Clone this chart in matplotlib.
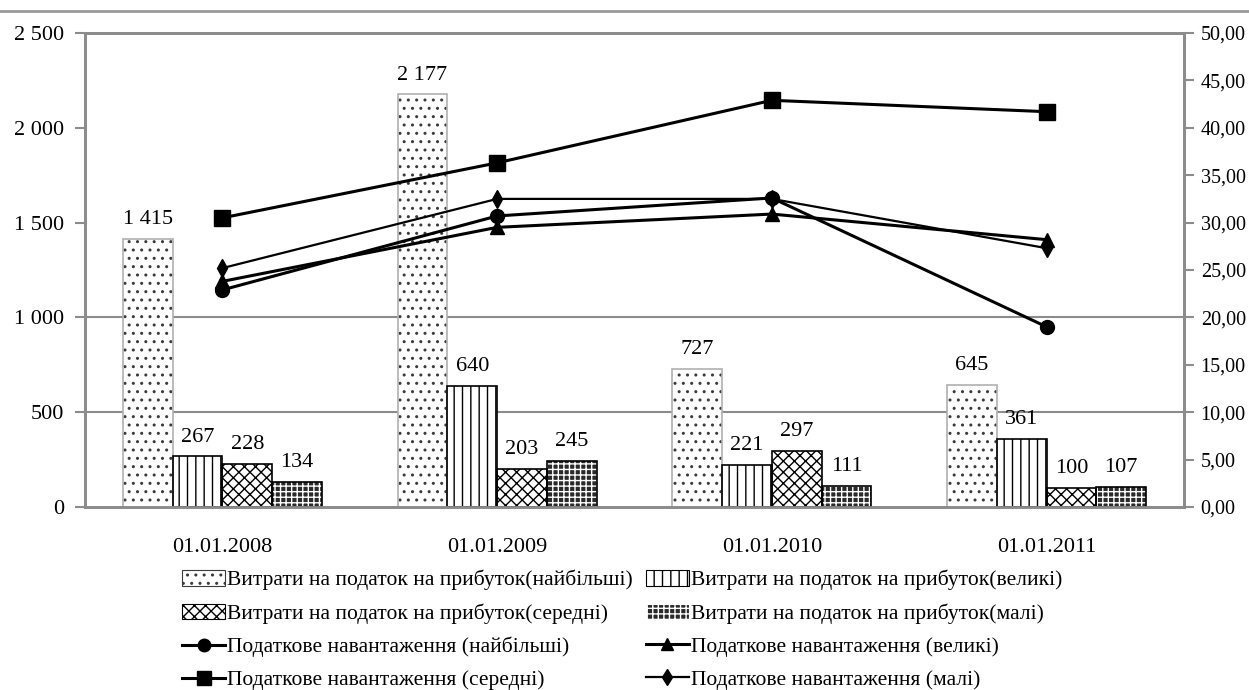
import matplotlib
matplotlib.use("Agg")
import matplotlib.pyplot as plt
import numpy as np
from matplotlib.ticker import FuncFormatter, MultipleLocator
from matplotlib.lines import Line2D
from matplotlib.patches import Patch

plt.rcParams['font.family'] = ['Liberation Serif', 'DejaVu Serif']
plt.rcParams['hatch.linewidth'] = 1.0

dates = ["01.01.2008", "01.01.2009", "01.01.2010", "01.01.2011"]

# Profit tax expenses by enterprise size
exp_largest = [1415, 2177, 727, 645]
exp_large = [267, 640, 221, 361]
exp_medium = [228, 203, 297, 100]
exp_small = [134, 245, 111, 107]

# Tax burden by enterprise size (right axis)
burden_largest = [22.9, 30.7, 32.6, 19.0]
burden_large = [23.8, 29.5, 30.9, 28.2]
burden_medium = [30.5, 36.3, 42.9, 41.7]
burden_small = [25.2, 32.5, 32.5, 27.3]

bar_labels = [
    "Витрати на податок на прибуток(найбільші)",
    "Витрати на податок на прибуток(великі)",
    "Витрати на податок на прибуток(середні)",
    "Витрати на податок на прибуток(малі)",
]
line_labels = [
    "Податкове навантаження (найбільші)",
    "Податкове навантаження (великі)",
    "Податкове навантаження (середні)",
    "Податкове навантаження (малі)",
]

fig = plt.figure(figsize=(12.49, 6.90), dpi=100)
ax = fig.add_axes([85 / 1249, 1 - 507 / 690, (1184 - 85) / 1249, (507 - 33) / 690])
ax2 = ax.twinx()

grey = "#8c8c8c"
x = np.arange(len(dates))
w = 0.181
offsets = [-1.5 * w, -0.5 * w, 0.5 * w, 1.5 * w]

bar_styles = [
    dict(hatch="..", face="white", hcolor="#3a3a3a", edge="#b0b0b0"),
    dict(hatch="||", face="white", hcolor="black", edge="black"),
    dict(hatch="xxx", face="white", hcolor="black", edge="black"),
    dict(hatch="+++", face="#2a2a2a", hcolor="white", edge="black"),
]
series = [exp_largest, exp_large, exp_medium, exp_small]

bar_handles = []
for vals, off, st, lab in zip(series, offsets, bar_styles, bar_labels):
    # hatch layer
    ax.bar(x + off, vals, w, facecolor=st["face"], edgecolor=st["hcolor"],
           hatch=st["hatch"], linewidth=0, zorder=2)
    # outline layer
    ax.bar(x + off, vals, w, facecolor="none", edgecolor=st["edge"],
           linewidth=1.2, zorder=3)
    for xi, v in zip(x + off, vals):
        txt = f"{v:,}".replace(",", " ")
        ax.annotate(txt, (xi, v), xytext=(0, 7), textcoords="offset points",
                    ha="center", va="bottom", fontsize=16, color="black")
    bar_handles.append(Patch(facecolor=st["face"], edgecolor=st["hcolor"],
                             hatch=st["hatch"], linewidth=0.8, label=lab))

line_specs = [
    (burden_largest, "o", 10, 2.2),
    (burden_large, "^", 10, 2.2),
    (burden_medium, "s", 11, 2.2),
    (burden_small, "d", 9, 1.6),
]
line_handles = []
for vals, mk, ms, lw in line_specs:
    ax2.plot(x, vals, color="black", marker=mk, markersize=ms, linewidth=lw,
             markerfacecolor="black", markeredgecolor="black", zorder=4)
for (vals, mk, ms, lw), lab in zip(line_specs, line_labels):
    line_handles.append(Line2D([], [], color="black", marker=mk, markersize=ms * 0.9,
                               linewidth=lw, label=lab))

ax.set_xlim(-0.5, 3.5)
ax.set_ylim(0, 2500)
ax2.set_ylim(0, 50)
ax.yaxis.set_major_locator(MultipleLocator(500))
ax2.yaxis.set_major_locator(MultipleLocator(5))
ax.yaxis.set_major_formatter(FuncFormatter(lambda v, p: f"{int(v):,}".replace(",", " ")))
ax2.yaxis.set_major_formatter(FuncFormatter(lambda v, p: f"{v:.2f}".replace(".", ",")))

ax.set_xticks(x)
ax.set_xticklabels(dates, fontsize=16)
ax.tick_params(axis="x", length=0, pad=22)
ax.tick_params(axis="y", labelsize=16, length=7, color=grey, width=1.5, pad=8)
ax2.tick_params(axis="y", labelsize=14.5, length=7, color=grey, width=1.5, pad=5)

for a in (ax, ax2):
    for s in a.spines.values():
        s.set_color(grey)
        s.set_linewidth(2)

for yv in (500, 1000):
    ax.axhline(yv, color=grey, linewidth=1.5, zorder=1)

ax.set_zorder(1)
ax.patch.set_visible(False)
ax2.set_zorder(2)

# page separator above the chart
fig.add_artist(Line2D([0, 1], [1 - 11 / 690, 1 - 11 / 690], transform=fig.transFigure,
                      color="#9a9a9a", linewidth=2))

handles = [bar_handles[0], bar_handles[2], line_handles[0], line_handles[2],
           bar_handles[1], bar_handles[3], line_handles[1], line_handles[3]]
fig.legend(handles=handles, loc="upper left", bbox_to_anchor=(182 / 1249, 1 - 570 / 690),
           ncol=2, frameon=False, fontsize=15.5, handlelength=2.0, handletextpad=0.1,
           columnspacing=0.6, labelspacing=0.6, borderpad=0, borderaxespad=0,
           handleheight=0.7)

fig.savefig("out.png", dpi=100)
